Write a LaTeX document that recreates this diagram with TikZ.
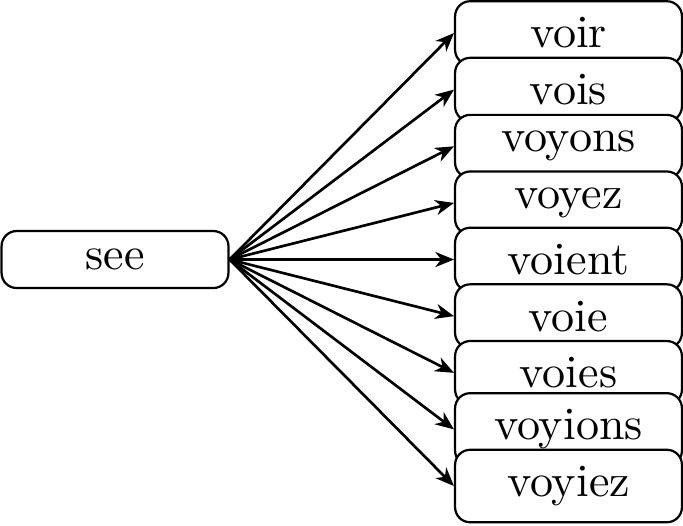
\documentclass[tikz,border=0pt]{standalone}
\usetikzlibrary{arrows.meta}
\begin{document}
\begin{tikzpicture}[x=0.2257pt,y=-0.2257pt,
  font=\fontsize{10.4}{12.5}\selectfont,
  wordbox/.style={draw,fill=white,line width=0.5pt,rounded corners=3.4pt,
    minimum width=51.2pt,inner ysep=3.7pt,inner xsep=2pt},
  link/.style={line width=0.6pt,-{Stealth[length=4.2pt,width=3.4pt,inset=1.3pt]}}]
\useasboundingbox (0,0) rectangle (683,525);
\node[wordbox,minimum height=12.86pt] (see) at (115,259.5) {see};
\node[wordbox] (n1) at (568.5,33) {voir};
\node[wordbox] (n2) at (568.5,89.6) {vois};
\node[wordbox] (n3) at (568.5,146.3) {voyons};
\node[wordbox] (n4) at (568.5,202.9) {voyez};
\node[wordbox] (n5) at (568.5,259.5) {voient};
\node[wordbox] (n6) at (568.5,316.1) {voie};
\node[wordbox] (n7) at (568.5,372.8) {voies};
\node[wordbox] (n8) at (568.5,429.4) {voyions};
\node[wordbox] (n9) at (568.5,486) {voyiez};
\foreach \i in {1,...,9}{
  \draw[link] (see.east) -- (n\i.west);
}
\end{tikzpicture}
\end{document}
